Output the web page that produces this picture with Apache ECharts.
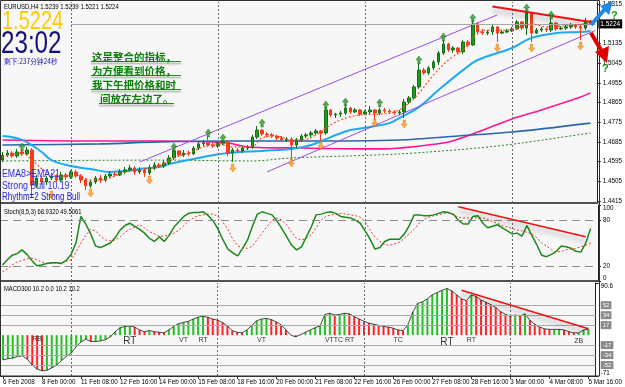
<!DOCTYPE html>
<html><head><meta charset="utf-8">
<script src="https://cdn.jsdelivr.net/npm/echarts@6/dist/echarts.min.js"></script>
<style>html,body{margin:0;padding:0;background:#fff}#c{width:625px;height:387px}</style>
</head><body><div id="c"></div>
<script>
// ---------- price bars (EURUSD H4) ----------
const opens = [1.4602,1.4625,1.4634,1.4621,1.4639,1.4630,1.4648,1.4488,1.4520,1.4502,
1.4520,1.4529,1.4511,1.4534,1.4525,1.4548,1.4529,1.4511,1.4484,1.4502,
1.4520,1.4511,1.4529,1.4538,1.4534,1.4548,1.4557,1.4566,1.4548,1.4557,
1.4543,1.4566,1.4580,1.4575,1.4589,1.4612,1.4644,1.4625,1.4634,1.4630,
1.4657,1.4676,1.4680,1.4671,1.4666,1.4680,1.4685,1.4634,1.4648,1.4644,
1.4657,1.4662,1.4707,1.4739,1.4721,1.4717,1.4712,1.4703,1.4694,1.4698,
1.4671,1.4694,1.4712,1.4717,1.4726,1.4735,1.4726,1.4831,1.4808,1.4812,
1.4817,1.4840,1.4822,1.4831,1.4812,1.4822,1.4831,1.4817,1.4831,1.4826,
1.4822,1.4817,1.4822,1.4867,1.4886,1.4936,1.5013,1.5000,1.5023,1.5050,
1.5091,1.5132,1.5105,1.5114,1.5096,1.5141,1.5128,1.5224,1.5187,1.5182,
1.5187,1.5210,1.5182,1.5187,1.5192,1.5201,1.5233,1.5205,1.5274,1.5182,
1.5196,1.5201,1.5196,1.5228,1.5201,1.5205,1.5210,1.5219,1.5210,1.5205,
1.5239];
const closes = [1.4625,1.4634,1.4621,1.4639,1.4630,1.4648,1.4488,1.4520,1.4502,1.4520,
1.4529,1.4511,1.4534,1.4525,1.4548,1.4529,1.4511,1.4484,1.4502,1.4520,
1.4511,1.4529,1.4538,1.4534,1.4548,1.4557,1.4566,1.4548,1.4557,1.4543,
1.4566,1.4580,1.4575,1.4589,1.4612,1.4644,1.4625,1.4634,1.4630,1.4657,
1.4676,1.4680,1.4671,1.4666,1.4680,1.4685,1.4634,1.4648,1.4644,1.4657,
1.4662,1.4707,1.4739,1.4721,1.4717,1.4712,1.4703,1.4694,1.4698,1.4671,
1.4694,1.4712,1.4717,1.4726,1.4735,1.4726,1.4831,1.4808,1.4812,1.4817,
1.4840,1.4822,1.4831,1.4812,1.4822,1.4831,1.4817,1.4831,1.4826,1.4822,
1.4817,1.4822,1.4867,1.4886,1.4936,1.5013,1.5000,1.5023,1.5050,1.5091,
1.5132,1.5105,1.5114,1.5096,1.5141,1.5128,1.5224,1.5187,1.5182,1.5187,
1.5210,1.5182,1.5187,1.5192,1.5201,1.5233,1.5205,1.5274,1.5182,1.5196,
1.5201,1.5196,1.5228,1.5201,1.5205,1.5210,1.5219,1.5210,1.5205,1.5239,
1.5224];
const highs = [1.4639,1.4648,1.4644,1.4653,1.4648,1.4662,1.4657,1.4534,1.4529,1.4529,
1.4543,1.4538,1.4548,1.4543,1.4557,1.4557,1.4538,1.4520,1.4511,1.4529,
1.4534,1.4538,1.4552,1.4548,1.4561,1.4570,1.4580,1.4575,1.4570,1.4566,
1.4580,1.4593,1.4589,1.4602,1.4625,1.4657,1.4648,1.4648,1.4644,1.4666,
1.4689,1.4694,1.4712,1.4680,1.4689,1.4694,1.4694,1.4657,1.4657,1.4666,
1.4671,1.4717,1.4758,1.4744,1.4730,1.4726,1.4717,1.4712,1.4707,1.4707,
1.4703,1.4721,1.4726,1.4735,1.4744,1.4739,1.4844,1.4835,1.4817,1.4826,
1.4858,1.4844,1.4840,1.4835,1.4831,1.4849,1.4835,1.4840,1.4840,1.4835,
1.4831,1.4831,1.4881,1.4895,1.4945,1.5041,1.5023,1.5032,1.5059,1.5100,
1.5150,1.5137,1.5123,1.5118,1.5150,1.5150,1.5242,1.5233,1.5201,1.5196,
1.5219,1.5214,1.5196,1.5201,1.5210,1.5242,1.5237,1.5287,1.5278,1.5205,
1.5210,1.5205,1.5251,1.5233,1.5214,1.5219,1.5228,1.5224,1.5219,1.5251,
1.5239];
const lows = [1.4593,1.4616,1.4612,1.4612,1.4621,1.4621,1.4429,1.4475,1.4488,1.4488,
1.4511,1.4502,1.4502,1.4511,1.4516,1.4520,1.4497,1.4465,1.4475,1.4493,
1.4497,1.4502,1.4520,1.4525,1.4529,1.4538,1.4548,1.4534,1.4538,1.4525,
1.4534,1.4557,1.4566,1.4566,1.4580,1.4602,1.4616,1.4616,1.4621,1.4625,
1.4648,1.4666,1.4662,1.4657,1.4657,1.4671,1.4621,1.4593,1.4634,1.4634,
1.4648,1.4653,1.4698,1.4712,1.4707,1.4703,1.4694,1.4685,1.4685,1.4602,
1.4657,1.4685,1.4703,1.4707,1.4717,1.4689,1.4717,1.4799,1.4794,1.4799,
1.4808,1.4812,1.4817,1.4803,1.4808,1.4812,1.4785,1.4808,1.4817,1.4812,
1.4808,1.4808,1.4794,1.4858,1.4876,1.4927,1.4991,1.4991,1.5013,1.5036,
1.5082,1.5096,1.5091,1.5087,1.5087,1.5118,1.5123,1.5178,1.5173,1.5173,
1.5173,1.5141,1.5178,1.5182,1.5187,1.5196,1.5196,1.5173,1.5141,1.5178,
1.5187,1.5187,1.5187,1.5192,1.5196,1.5196,1.5201,1.5201,1.5150,1.5196,
1.5221];

// ---------- moving averages [barIndex, price] ----------
const ema21Pts = [[0,1.4712],[4,1.4694],[8,1.4639],[10,1.4602],[14,1.4575],[18,1.4561],[22,1.4548],[25,1.4552],[28,1.4561],[32,1.4570],[34,1.4584],[40,1.4612],[46,1.4634],[53,1.4644],[59,1.4653],[63,1.4671],[67,1.4707],[71,1.4739],[75,1.4753],[79,1.4771],[81,1.4794],[85,1.4844],[89,1.4922],[94,1.5013],[97,1.5059],[104,1.5114],[108,1.5160],[113,1.5182],[118,1.5187],[120,1.5192]];
const ema8Pts = [[0,1.4616],[4,1.4634],[6,1.4602],[9,1.4548],[12,1.4529],[15,1.4534],[18,1.4511],[20,1.4511],[23,1.4529],[26,1.4552],[29,1.4557],[32,1.4575],[35,1.4612],[38,1.4634],[41,1.4662],[44,1.4676],[47,1.4662],[51,1.4666],[53,1.4703],[56,1.4712],[59,1.4694],[61,1.4694],[64,1.4717],[66,1.4749],[69,1.4785],[73,1.4808],[77,1.4812],[80,1.4822],[83,1.4863],[85,1.4908],[88,1.4991],[91,1.5059],[94,1.5105],[96,1.5160],[99,1.5196],[103,1.5196],[105,1.5205],[108,1.5224],[111,1.5210],[114,1.5214],[117,1.5219],[120,1.5228]];
const pinkMaPts = [[0,1.4694],[20,1.4689],[32,1.4689],[46,1.4680],[50,1.4662],[61,1.4657],[77,1.4653],[81,1.4657],[91,1.4685],[97,1.4730],[104,1.4790],[110,1.4831],[118,1.4890],[120,1.4909]];
const blueMaPts = [[0,1.4671],[20,1.4676],[32,1.4685],[46,1.4689],[61,1.4689],[81,1.4694],[93,1.4712],[104,1.4730],[120,1.4771]];
const greenMaPts = [[0,1.4598],[32,1.4602],[51,1.4598],[59,1.4612],[71,1.4621],[81,1.4630],[87,1.4639],[97,1.4657],[106,1.4680],[120,1.4726]];
const channelUpper = [[28,1.4593],[101,1.5265]];
const channelLower = [[54,1.4548],[121,1.5194]];
const priceTrend = [[100,1.5303],[120,1.5233]];
const upFractals = [[4,1.4662],[35,1.4662],[42,1.4726],[45,1.4703],[53,1.4771],[66,1.4854],[70,1.4867],[77,1.4863],[85,1.5059],[90,1.5164],[96,1.5251],[107,1.5297],[112,1.5265]];
const downFractals = [[10,1.4443],[18,1.4452],[30,1.4511],[47,1.4566],[59,1.4589],[65,1.4667],[76,1.4771],[82,1.4767],[101,1.5114],[108,1.5114],[118,1.5123]];
const priceTicks = [1.4415,1.4505,1.4595,1.4685,1.4775,1.4865,1.4955,1.5045,1.5135,1.5315];
const lastPrice = 1.5224;

// ---------- Stochastic (8,5,3) ----------
const stochK = [21,28,34,36,41,35,27,20,21,23,24,24,23,27,35,50,85,75,62,46,
44,47,50,57,67,73,76,72,68,63,56,52,58,52,60,71,78,85,89,90,
90,91,86,79,68,54,42,37,33,43,54,72,88,91,89,87,79,69,58,47,
41,45,58,71,87,88,90,91,89,85,84,83,80,76,66,55,42,44,52,55,
55,55,62,73,87,87,86,86,87,89,91,90,88,80,75,75,85,86,76,70,
72,74,70,66,62,63,59,73,60,48,34,32,35,39,46,45,43,39,38,50,68.93];
const stochD = [12,16,21,25,27,29,30,28,25,23,23,24,24,26,28,38,50,60,68,66,
59,54,53,54,58,64,68,71,74,70,65,62,59,59,61,63,67,73,79,83,
86,87,88,88,85,77,68,55,46,44,43,46,55,63,72,80,83,80,74,64,
56,54,56,61,70,80,85,87,88,89,88,87,86,84,78,67,58,52,48,47,
49,51,56,62,68,76,81,84,86,87,89,89,87,84,83,83,83,83,83,81,
78,76,73,71,69,67,66,64,62,57,50,46,41,38,39,41,42,43,45,47,49.51];
const stochLevels = [80,20];
const stochTicks = [0,20,80,100];
const stochTrend = [[93,97.8],[119,58.3]];

// ---------- MACD300 histogram ----------
const macdHist = [-43,-41,-40,-37,-36,-42,-52,-59,-62,-61,
-57,-52,-44,-37,-31,-20,-12,-7,-11,-11,
-10,-8,-3,6,13,15,16,14,9,6,
8,6,5,4,9,15,20,22,24,28,
31,33,31,28,26,22,16,8,5,4,
9,17,25,28,29,27,23,18,9,0,
-3,1,5,9,13,16,36,38,35,36,
38,37,32,28,24,21,19,17,15,14,
12,9,8,18,40,55,58,63,70,74,
78,81,77,70,63,60,70,67,61,57,
53,48,41,36,33,35,33,37,26,19,
14,11,10,10,10,9,6,4,4,9,10.2];
const macdLevels = [52,34.67,17.33,-17.33,-34.67,-52];
const macdLevelText = ['52','34','17','-17','-34','-52'];
const macdTrend = [[94,78],[120,11]];
const macdMarks = [[7,-7,'RB',7],[26,-10,'RT',10],[37,-8,'VT',7],[41,-9,'RT',7],[53,-9,'VT',7],[69,-9,'VTTC RT',7],[81,-9,'TC',7],[91,-12,'RT',10],[96,-9,'RT',7],[118,-10,'ZB',7]];

// ---------- time axis ----------
const tickLabels = ['6 Feb 2008','8 Feb 00:00','11 Feb 08:00','12 Feb 16:00','14 Feb 00:00','15 Feb 08:00','18 Feb 16:00','20 Feb 00:00','21 Feb 08:00','22 Feb 16:00','26 Feb 00:00','27 Feb 08:00','28 Feb 16:00','3 Mar 00:00','4 Mar 08:00','5 Mar 16:00'];
const weekStarts = [14,44,74,104];
const SLOTS = 122;

const cats = Array.from({length: SLOTS}, (_, i) => String(i));
const F = '"Liberation Sans",Arial,sans-serif';
const CJK = '"Noto Sans CJK SC",sans-serif';
const candleData = closes.map((c, i) => [opens[i], c, lows[i], highs[i]]);
const sepLines = () => weekStarts.map(w => ({xAxis: String(w), lineStyle:{color:'#6a6a6a', type:[2,2], width:1}, label:{show:false}}));

const chart = echarts.init(document.getElementById('c'));
// text helper for overlay labels (MT4 fonts are horizontally condensed)
const T = (text, x, y, font, fill, sx, extra) => ({type:'text', x, y, scaleX:sx, z:100,
  style:Object.assign({text, font, fill, verticalAlign:'middle'}, extra || {})});

const option = {
  animation: false,
  backgroundColor: '#ffffff',
  grid: [
    {left:0, width:598, top:2, height:201, show:true, backgroundColor:'#f7f7f7', borderWidth:0},
    {left:0, width:598, top:205, height:76, show:true, backgroundColor:'#f7f7f7', borderWidth:0},
    {left:0, width:598, top:283, height:93, show:true, backgroundColor:'#f7f7f7', borderWidth:0}
  ],
  xAxis: [0,1,2].map(g => ({
    type:'category', gridIndex:g, data:cats, boundaryGap:true,
    axisLine:{show:true, onZero:false, lineStyle:{color: g<2 ? '#505050' : '#303030', width: g<2 ? 2 : 1}},
    axisTick:{show: g===2, interval:(i)=> i%8===0 && i<=120, alignWithLabel:true, length:3, lineStyle:{color:'#303030'}},
    axisLabel:{show: g===2, interval:(i)=> i%8===0 && i<=120, formatter:(v,i)=> tickLabels[Math.round(i/8)] || '',
      align:'left', fontSize:6.3, fontFamily:F, color:'#000', margin:3},
    splitLine:{show:false}
  })),
  yAxis: [
    {gridIndex:0, type:'value', position:'right', min:1.4406, max:1.5324, scale:true,
     axisLine:{show:true, lineStyle:{color:'#202020'}}, splitLine:{show:false},
     axisTick:{show:true, length:3, customValues:priceTicks, lineStyle:{color:'#202020'}},
     axisLabel:{customValues:priceTicks, formatter:(v)=>v.toFixed(4), fontSize:6.3, fontFamily:F, color:'#000', margin:5}},
    {gridIndex:1, type:'value', position:'right', min:0, max:100,
     axisLine:{show:true, lineStyle:{color:'#202020'}}, splitLine:{show:false},
     axisTick:{show:true, length:3, customValues:stochTicks, lineStyle:{color:'#202020'}},
     axisLabel:{customValues:stochTicks, fontSize:6.3, fontFamily:F, color:'#000', margin:5,
       verticalAlignMaxLabel:'top', verticalAlignMinLabel:'bottom'}},
    {gridIndex:2, type:'value', position:'right', min:-71, max:90.6,
     axisLine:{show:true, lineStyle:{color:'#202020'}}, splitLine:{show:false},
     axisTick:{show:true, length:3, customValues:[-71,90.6], lineStyle:{color:'#202020'}},
     axisLabel:{customValues:[-71,90.6], formatter:(v)=>String(v), fontSize:6.3, fontFamily:F, color:'#000', margin:5,
       verticalAlignMaxLabel:'top', verticalAlignMinLabel:'bottom'}}
  ],
  series: [
    {type:'candlestick', xAxisIndex:0, yAxisIndex:0, data:candleData, barWidth:3, z:4,
     itemStyle:{color:'#1f9a1f', color0:'#ff3c1e', borderColor:'#127012', borderColor0:'#f03a1a', borderWidth:1},
     markLine:{symbol:'none', silent:true, data:[
        ...sepLines(),
        [{coord:['14', lastPrice], lineStyle:{color:'#a8a8a8', type:'solid', width:1},
          label:{show:true, position:'end', formatter:lastPrice.toFixed(4), color:'#fff', backgroundColor:'#000',
                 fontSize:6.5, fontFamily:F, padding:[1,2], distance:3}},
         {coord:['121', lastPrice]}]
     ]}},
    {type:'line', xAxisIndex:0, yAxisIndex:0, data:pinkMaPts, smooth:0.3, showSymbol:false, z:3,
     lineStyle:{color:'#ff1493', width:1.6}},
    {type:'line', xAxisIndex:0, yAxisIndex:0, data:blueMaPts, smooth:0.3, showSymbol:false, z:3,
     lineStyle:{color:'#2a66a8', width:1.6}},
    {type:'line', xAxisIndex:0, yAxisIndex:0, data:greenMaPts, smooth:0.3, showSymbol:false, z:3,
     lineStyle:{color:'#2e7d32', width:1, type:[2,2]}},
    {type:'line', xAxisIndex:0, yAxisIndex:0, data:ema21Pts, smooth:0.4, showSymbol:false, z:3,
     lineStyle:{color:'#1eaaf0', width:2}},
    {type:'line', xAxisIndex:0, yAxisIndex:0, data:ema8Pts, smooth:0.4, showSymbol:false, z:5,
     lineStyle:{color:'#ff4a2a', width:1.2, type:[2,2]}},
    {type:'line', xAxisIndex:0, yAxisIndex:0, data:channelUpper, showSymbol:false, z:3,
     lineStyle:{color:'#9a4ee6', width:1}},
    {type:'line', xAxisIndex:0, yAxisIndex:0, data:channelLower, showSymbol:false, z:3,
     lineStyle:{color:'#9a4ee6', width:1}},
    {type:'line', xAxisIndex:0, yAxisIndex:0, data:priceTrend, showSymbol:false, z:6,
     lineStyle:{color:'#ee1111', width:2, shadowColor:'rgba(0,0,0,0.3)', shadowBlur:5, shadowOffsetY:4}},
    {type:'scatter', xAxisIndex:0, yAxisIndex:0, data:upFractals, z:7,
     symbol:'path://M5,0 L10,5 L7,5 L7,10 L3,10 L3,5 L0,5 Z', symbolSize:[6,8],
     itemStyle:{color:'#2a9a2a', borderColor:'#0f600f', borderWidth:0.5}},
    {type:'scatter', xAxisIndex:0, yAxisIndex:0, data:downFractals, z:7,
     symbol:'path://M5,0 L10,5 L7,5 L7,10 L3,10 L3,5 L0,5 Z', symbolSize:[6,8], symbolRotate:180,
     itemStyle:{color:'#ff9a1a', borderColor:'#d07000', borderWidth:0.5}},

    {type:'line', xAxisIndex:1, yAxisIndex:1, data:stochD, showSymbol:false, z:3,
     lineStyle:{color:'#ff3030', width:1, type:[2,2]},
     markLine:{symbol:'none', silent:true, data:[
        ...sepLines(),
        ...stochLevels.map(v => ({yAxis:v, lineStyle:{color:'#8c8c8c', type:[8,5], width:1}, label:{show:false}}))
     ]}},
    {type:'line', xAxisIndex:1, yAxisIndex:1, data:stochK, showSymbol:false, z:4,
     lineStyle:{color:'#1a8a1a', width:1.5}},
    {type:'line', xAxisIndex:1, yAxisIndex:1, data:stochTrend, showSymbol:false, z:5,
     lineStyle:{color:'#ee1111', width:1.6, shadowColor:'rgba(0,0,0,0.35)', shadowBlur:5, shadowOffsetY:4}},

    {type:'bar', xAxisIndex:2, yAxisIndex:2, data:macdHist, barWidth:2, z:3,
     itemStyle:{color:(p)=> (p.dataIndex===0 || macdHist[p.dataIndex] >= macdHist[p.dataIndex-1]) ? '#22c022' : '#ff2222'},
     markLine:{symbol:'none', silent:true, data:[
        ...sepLines(),
        ...macdLevels.map((v,k) => ({yAxis:v, lineStyle:{color:'#a8a8a8', type:'solid', width:1},
          label:{show:true, position:'end', formatter:macdLevelText[k], color:'#fff', backgroundColor:'#8a8a8a',
                 fontSize:6, fontFamily:F, padding:[1,2], distance:5}})),
        {yAxis:0, lineStyle:{color:'#a8a8a8', opacity:0}, label:{show:true, position:'end', formatter:'0.00', color:'#000',
                 fontSize:6.3, fontFamily:F, distance:5}}
     ]}},
    {type:'line', xAxisIndex:2, yAxisIndex:2, data:macdHist, showSymbol:false, z:4,
     lineStyle:{color:'#202020', width:0.8}},
    {type:'line', xAxisIndex:2, yAxisIndex:2, data:macdTrend, showSymbol:false, z:5,
     lineStyle:{color:'#ee1111', width:1.6, shadowColor:'rgba(0,0,0,0.35)', shadowBlur:5, shadowOffsetY:4}},
    {type:'scatter', xAxisIndex:2, yAxisIndex:2, symbolSize:0, z:6,
     data: macdMarks.map(m => ({value:[m[0], m[1]], label:{show:true, formatter:m[2], fontSize:m[3], fontFamily:F, color:'#000', position:'inside'}}))}
  ],
  graphic: [
    {type:'rect', shape:{x:0.5, y:0.5, width:599, height:375.5}, style:{fill:'none', stroke:'#303030', lineWidth:1}, z:100, silent:true},
    T('EURUSD,H4 1.5239 1.5239 1.5221 1.5224', 4, 7, '7.5px '+F, '#000', 0.8),
    T('1.5224', 2, 22, '25px '+F, '#ffcc00', 0.8),
    T('23:02', 1, 44, '31px '+F, '#10107a', 0.78),
    T('剩下:237分钟24秒', 4, 61, '7px '+CJK, '#1010c0', 0.95),
    ...[['这是整合的指标，',92,57,61,181],['为方便看到价格，',92,71,75,181],['我下午把价格和时',92,85,89,181],['间放在左边了。',100,99,103,174]].flatMap(t => [
      {type:'line', shape:{x1:t[1]-1, y1:t[3]+0.5, x2:t[4], y2:t[3]+0.5}, style:{stroke:'#2a8a2a', lineWidth:1, shadowColor:'rgba(0,0,0,0.45)', shadowBlur:2, shadowOffsetY:2}, z:100},
      T(t[0], t[1], t[2], 'bold 10.5px '+CJK, '#0b7d0b', 1, {shadowColor:'rgba(0,0,0,0.45)', shadowBlur:2, shadowOffsetX:1.5, shadowOffsetY:2})
    ]),
    T('EMA8>EMA21', 2, 174, '11px '+F, '#2e2ee6', 0.8),
    T('Strong Bull 10.19', 2, 186, '11px '+F, '#2e2ee6', 0.8),
    T('Rhythm=2 Strong Bull', 2, 197, '10px '+F, '#1a1ad0', 0.8),
    T('Stoch(8,5,3) 68.9320 49.5061', 4, 212, '7.5px '+F, '#000', 0.78),
    T('MACD300 10.2 0.0 10.2 10.2', 4, 289, '7.5px '+F, '#000', 0.78),
    {type:'line', shape:{x1:591, y1:25, x2:605, y2:9}, style:{stroke:'#1e88e5', lineWidth:4}, z:100},
    {type:'polygon', shape:{points:[[613,1],[600,6],[609,15]]}, style:{fill:'#1e88e5'}, z:100},
    {type:'line', shape:{x1:591, y1:33, x2:601, y2:50}, style:{stroke:'#e00000', lineWidth:4}, z:100},
    {type:'polygon', shape:{points:[[607,63],[595,52],[609,46]]}, style:{fill:'#e00000'}, z:100},
    T('?', 611, 16, 'bold 11px '+F, '#1a9a1a', 1),
    T('?', 602, 69, 'bold 11px '+F, '#1a9a1a', 1)
  ]
};
chart.setOption(option);
</script></body></html>
